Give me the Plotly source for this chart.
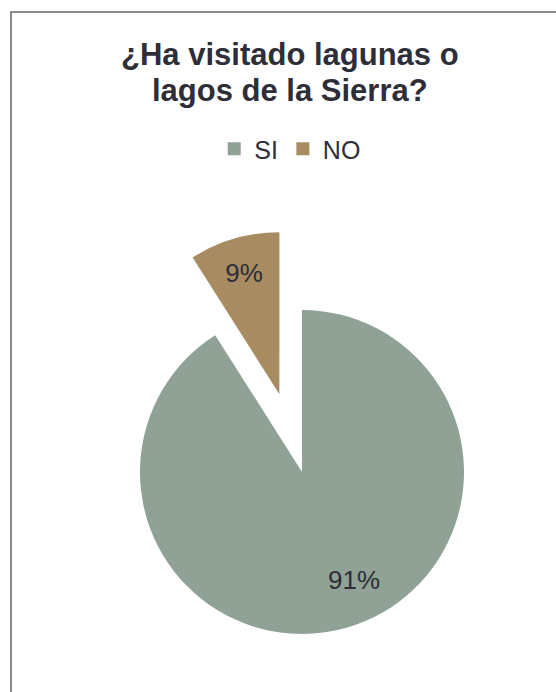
import math
import plotly.graph_objects as go

# Survey answers
labels = ["SI", "NO"]
values = [91, 9]
colors = ["#90A195", "#A98B62"]
pull_no = 0.5

title_lines = ["¿Ha visitado lagunas o", "lagos de la Sierra?"]

W, H = 556, 692
FONT = "Liberation Sans, Arial, sans-serif"
TEXT = "#2E2E38"

# Pie geometry in pixels (page coordinates, origin top-left)
cx, cy, r = 302, 472, 162


def domain(px, py, rad):
    return dict(x=[(px - rad) / W, (px + rad) / W],
                y=[1 - (py + rad) / H, 1 - (py - rad) / H])


total = sum(values)
shares = [v / total for v in values]
# bisector of the NO slice, measured clockwise from 12 o'clock
start_no = 360 * shares[0]
mid_no = math.radians(start_no + 360 * shares[1] / 2)
dx = pull_no * r * math.sin(mid_no)
dy = -pull_no * r * math.cos(mid_no)

fig = go.Figure()

# Main body: SI slice, the NO slot left empty
fig.add_trace(go.Pie(
    labels=labels, values=values, sort=False, direction="clockwise", rotation=0,
    marker=dict(colors=[colors[0], "rgba(0,0,0,0)"]),
    textinfo="none",
    domain=domain(cx, cy, r), showlegend=False, hoverinfo="label+percent",
))

# Exploded NO slice
fig.add_trace(go.Pie(
    labels=labels, values=values, sort=False, direction="clockwise", rotation=0,
    marker=dict(colors=["rgba(0,0,0,0)", colors[1]]),
    texttemplate=["", "%{percent:.0%}"], textposition="inside",
    insidetextorientation="horizontal",
    textfont=dict(family=FONT, size=26, color=TEXT),
    domain=domain(cx + dx, cy + dy, r), showlegend=False, hoverinfo="label+percent",
))

# Legend entries
for lab, col in zip(labels, colors):
    fig.add_trace(go.Scatter(
        x=[None], y=[None], mode="markers", name=lab,
        marker=dict(symbol="square", size=13, color=col),
    ))

# Two-line bold title; the base font size sets a 36px line pitch
title_html = "<br>".join(
    f"<span style='font-size:31px'><b>{line}</b></span>" for line in title_lines
)
annotations = [dict(
    text=title_html, x=290 / W, y=1 - 72 / H,
    xref="paper", yref="paper", xanchor="center", yanchor="middle",
    showarrow=False, font=dict(family=FONT, size=36 / 1.3, color=TEXT),
)]

# SI data label, placed inside the big slice
lab_ang = math.radians(154.5)
lab_rad = 0.74 * r
annotations.append(dict(
    text=f"{round(shares[0] * 100)}%",
    x=(cx + lab_rad * math.sin(lab_ang)) / W,
    y=1 - (cy - lab_rad * math.cos(lab_ang)) / H,
    xref="paper", yref="paper", xanchor="center", yanchor="middle",
    showarrow=False, font=dict(family=FONT, size=26, color=TEXT),
))

fig.update_layout(
    width=W, height=H,
    margin=dict(l=0, r=0, t=0, b=0),
    paper_bgcolor="white", plot_bgcolor="white",
    xaxis=dict(visible=False), yaxis=dict(visible=False),
    showlegend=True,
    legend=dict(orientation="h", x=0.522, xanchor="center", y=1 - 149 / H,
                yanchor="middle", font=dict(family=FONT, size=25, color=TEXT),
                itemwidth=30, bgcolor="rgba(0,0,0,0)"),
    annotations=annotations,
    shapes=[dict(type="rect", xref="paper", yref="paper",
                 x0=11 / W, x1=1.1, y0=-0.1, y1=1 - 12 / H,
                 line=dict(color="#8C8C8C", width=2))],
)

fig.write_html("out.html")
